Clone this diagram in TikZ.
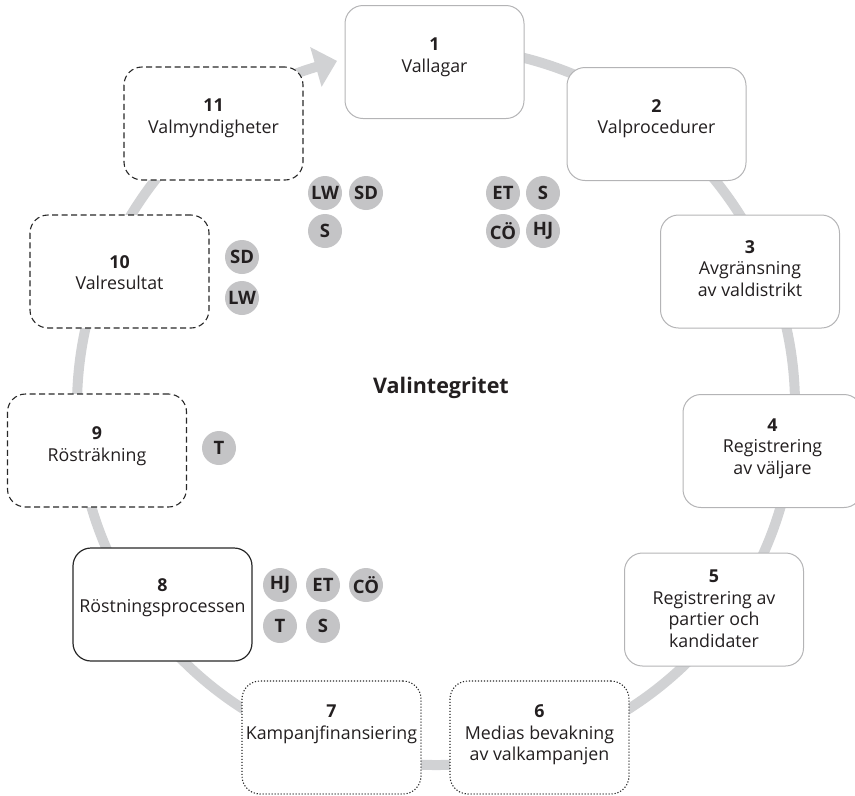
\documentclass[tikz,border=0pt]{standalone}
\usepackage{fontspec}
\setmainfont{Open Sans}
\usetikzlibrary{arrows.meta,calc}
\definecolor{ringgray}{RGB}{209,210,212}
\definecolor{badgegray}{RGB}{196,196,198}
\definecolor{boxgray}{RGB}{180,180,182}
\definecolor{txtcol}{RGB}{35,31,32}
\definecolor{darkline}{RGB}{40,40,40}
\begin{document}
\begin{tikzpicture}[x=1pt,y=-1pt,
  box/.style={rounded corners=18pt, minimum width=179pt, minimum height=113pt, fill=white, inner sep=0pt},
  lightbox/.style={box, draw=boxgray, line width=1pt},
  dashbox/.style={box, draw=darkline, dash pattern=on 6pt off 3.5pt, line width=1.1pt},
  dotbox/.style={box, draw=darkline, dash pattern=on 1.2pt off 1.8pt, line width=1.1pt},
  solidbox/.style={box, draw=darkline, line width=1.2pt},
  txt/.style={align=center, font=\fontsize{17.8}{21.5}\selectfont, text=txtcol, inner sep=0pt},
  badge/.style={circle, fill=badgegray, minimum size=34pt, inner sep=0pt, font=\fontsize{18.5}{18.5}\selectfont\bfseries, text=txtcol},
  ring/.style={draw=ringgray, line width=10pt}
]
\useasboundingbox (0,0) rectangle (855,796);
\coordinate (c) at (436,406);
% ring with arrow
\draw[ring, -{Triangle[width=40pt,length=22pt]}, ringgray] (c) ++(-85:359) arc[start angle=85, end angle=-254, radius=359pt];

% boxes
\node[lightbox] (b1) at (434.5,62) {};
\node[lightbox] (b2) at (656.5,124) {};
\node[lightbox] (b3) at (750,271.5) {};
\node[lightbox] (b4) at (772.5,451) {};
\node[lightbox] (b5) at (714,609.5) {};
\node[dotbox] (b6) at (539.5,737.5) {};
\node[dotbox] (b7) at (331.5,737.5) {};
\node[solidbox] (b8) at (162.5,604.5) {};
\node[dashbox] (b9) at (97,450.5) {};
\node[dashbox] (b10) at (119.5,271.5) {};
\node[dashbox] (b11) at (213.5,123.5) {};

% texts
\node[txt] (t1) at ($(b1)+(0,-4.5)$) {\textbf{1}\\Vallagar};
\node[txt] (t2) at ($(b2)+(0,-5.5)$) {\textbf{2}\\Valprocedurer};
\node[txt] (t3) at ($(b3)+(0,-3)$) {\textbf{3}\\Avgränsning\\av valdistrikt};
\node[txt] (t4) at ($(b4)+(0,-2.5)$) {\textbf{4}\\Registrering\\av väljare};
\node[txt] (t5) at ($(b5)+(0,-1)$) {\textbf{5}\\Registrering av\\partier och\\kandidater};
\node[txt] (t6) at ($(b6)+(0,-2.5)$) {\textbf{6}\\Medias bevakning\\av valkampanjen};
\node[txt] (t7) at ($(b7)+(0,-13)$) {\textbf{7}\\Kampanjfinansiering};
\node[txt] (t8) at ($(b8)+(0,-7)$) {\textbf{8}\\Röstningsprocessen};
\node[txt] (t9) at ($(b9)+(0,-4.5)$) {\textbf{9}\\Rösträkning};
\node[txt] (t10) at ($(b10)+(0,1)$) {\textbf{10}\\Valresultat};
\node[txt] (t11) at ($(b11)+(0,-5)$) {\textbf{11}\\Valmyndigheter};

\node[font=\fontsize{21.5}{25}\selectfont\bfseries, text=txtcol] (title) at (441,388) {Valintegritet};

% badges
\node[badge] (a1) at (325,193) {LW};
\node[badge] (a2) at (366,193) {SD};
\node[badge] (a3) at (325,231) {S};
\node[badge] (a4) at (503,193) {ET};
\node[badge] (a5) at (543,193) {S};
\node[badge] (a6) at (503,231) {CÖ};
\node[badge] (a7) at (543,231) {HJ};
\node[badge] (a8) at (242,257) {SD};
\node[badge] (a9) at (242,298) {LW};
\node[badge] (a10) at (219,448) {T};
\node[badge] (a11) at (280,585) {HJ};
\node[badge] (a12) at (323,585) {ET};
\node[badge] (a13) at (366,585) {CÖ};
\node[badge] (a14) at (280,626) {T};
\node[badge] (a15) at (323,626) {S};
\end{tikzpicture}
\end{document}
